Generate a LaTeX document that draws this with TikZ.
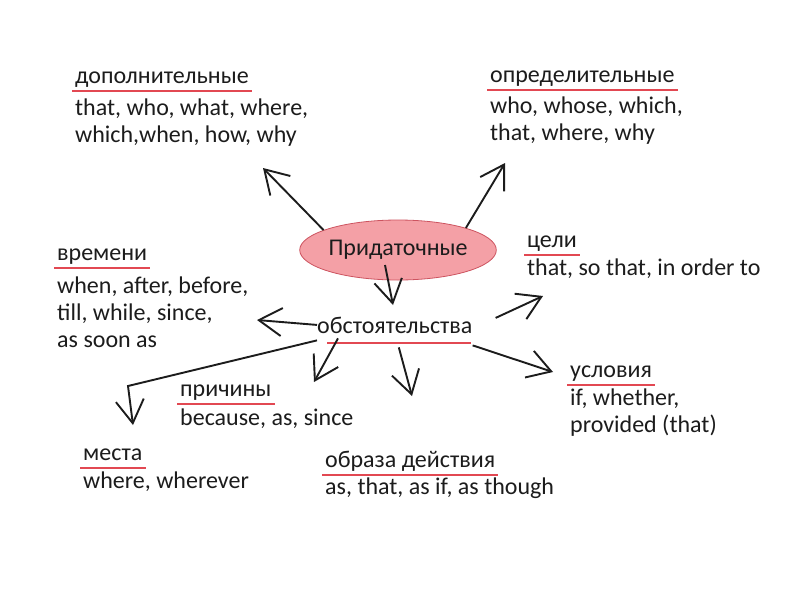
\documentclass[tikz,border=0pt]{standalone}
\usepackage{fontspec}
\setmainfont{Carlito}
\usetikzlibrary{
  arrows.meta,
  positioning,
  shapes.geometric
}
\definecolor{inkblack}{RGB}{28,28,28}
\definecolor{linered}{RGB}{226,72,82}
\definecolor{bubblepink}{RGB}{244,160,166}
\definecolor{bubblered}{RGB}{205,84,96}
\tikzset{
  hdr/.style={anchor=base west,inner sep=0pt,text=inkblack,
    font=\fontsize{24}{27}\selectfont},
  words/.style={anchor=base west,inner sep=0pt,align=left,text=inkblack,
    font=\fontsize{24}{27}\selectfont},
  bubble/.style={ellipse,draw=bubblered,thick,fill=bubblepink,
    minimum width=157pt,minimum height=60pt,inner sep=0pt,text=inkblack,
    font=\fontsize{24}{27}\selectfont},
  uline/.style={draw=linered,line width=1.6pt},
  branch/.style={-{Straight Barb[length=23pt,width=28pt]},
    line width=1.9pt,draw=inkblack}
}

\begin{document}
\begin{tikzpicture}[x=1pt,y=-1pt]
  \fill[white] (0,0) rectangle (800,600);
  \useasboundingbox (0,0) rectangle (800,600);

  \node[bubble] (root) at (398,250) {Придаточные};
  \node[hdr] (obst) at (317,333) {обстоятельства};

  % lists: placed at the baseline of their last line
  \node[hdr] (dopHdr) at (75,83) {дополнительные};
  \node[words] (dopList) at (75,142) {that, who, what, where,\\which,when, how, why};
  \node[hdr] (oprHdr) at (490,82) {определительные};
  \node[words] (oprList) at (490,140) {who, whose, which,\\that, where, why};
  \node[hdr] (vremHdr) at (57,260) {времени};
  \node[words] (vremList) at (57,347) {when, after, before,\\till, while, since,\\as soon as};
  \node[hdr] (celiHdr) at (527,247) {цели};
  \node[words] (celiList) at (527,275) {that, so that, in order to};
  \node[hdr] (uslHdr) at (570,377) {условия};
  \node[words] (uslList) at (570,432) {if, whether,\\provided (that)};
  \node[hdr] (prichHdr) at (180,396) {причины};
  \node[words] (prichList) at (180,425) {because, as, since};
  \node[hdr] (mestaHdr) at (83,460) {места};
  \node[words] (mestaList) at (83,488) {where, wherever};
  \node[hdr] (obrHdr) at (325,467) {образа действия};
  \node[words] (obrList) at (325,494) {as, that, as if, as though};

  \foreach \h in {dopHdr,oprHdr,vremHdr,celiHdr,uslHdr,prichHdr,mestaHdr,obrHdr}
    \draw[uline] ([xshift=-3pt,yshift=-8pt]\h.base west) -- ([xshift=3pt,yshift=-8pt]\h.base east);
  \draw[uline] ([xshift=10pt,yshift=-10pt]obst.base west) -- ([xshift=-2pt,yshift=-10pt]obst.base east);

  \coordinate (dopTip) at (263,168);
  \coordinate (oprTip) at (505,163);
  \coordinate (obstTip) at (393,305);
  \coordinate (vremTip) at (257,320);
  \coordinate (celiTip) at (543,296);
  \coordinate (mestaBend) at (128,386);
  \coordinate (mestaTip) at (133,425);
  \coordinate (prichTip) at (314,382);
  \coordinate (obrTip) at (412,396);
  \coordinate (uslTip) at (553,372);

  \draw[branch] (root.165) -- (dopTip);
  \draw[branch] (root.18) -- (oprTip);
  \draw[branch] ([xshift=-13pt,yshift=-15pt]root.center) -- (obstTip);
  \draw[branch] (obst.west) -- (vremTip);
  \draw[branch] ([xshift=23pt,yshift=7pt]obst.east) -- (celiTip);
  \draw[branch] ([yshift=-7pt]obst.south west) -- (mestaBend) -- (mestaTip);
  \draw[branch] ([xshift=21pt,yshift=-5pt]obst.south west) -- (prichTip);
  \draw[branch] ([xshift=4pt,yshift=-14pt]obst.south) -- (obrTip);
  \draw[branch] ([yshift=-12pt]obst.south east) -- (uslTip);
\end{tikzpicture}
\end{document}
